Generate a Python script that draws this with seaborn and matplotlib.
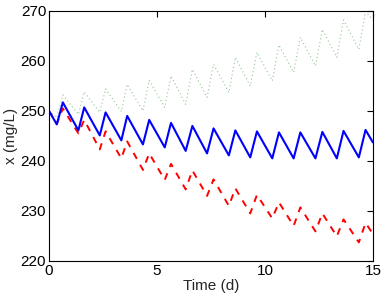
import numpy as np
import pandas as pd
import matplotlib
matplotlib.use("Agg")
import matplotlib.pyplot as plt
import seaborn as sns

# knot times (days) where the sawtooth turns
t_knots = [0, 0.36, 0.64, 1.36, 1.63, 2.35, 2.62, 3.35, 3.62, 4.35, 4.64, 5.36,
           5.65, 6.33, 6.64, 7.32, 7.62, 8.33, 8.63, 9.32, 9.63, 10.34, 10.65,
           11.33, 11.64, 12.34, 12.66, 13.33, 13.64, 14.35, 14.66, 15.0]

blue_vals = [250.0, 247.3, 251.7, 246.1, 250.7, 245.1, 249.7, 244.1, 249.0, 243.3,
             248.2, 242.7, 247.6, 242.0, 247.0, 241.5, 246.5, 241.1, 246.1, 240.7,
             245.9, 240.5, 245.7, 240.5, 245.7, 240.5, 245.8, 240.5, 246.0, 240.7,
             246.2, 243.7]

red_vals = [250.0, 247.4, 250.5, 245.5, 248.2, 242.3, 245.9, 240.5, 243.9, 238.2,
            241.5, 236.2, 239.4, 234.3, 238.1, 233.0, 236.3, 231.0, 234.5, 229.5,
            233.2, 228.5, 231.7, 227.0, 230.7, 225.9, 229.5, 224.9, 228.3, 223.7,
            227.6, 225.4]

green_vals = [250.0, 248.6, 253.2, 249.3, 253.8, 249.7, 254.4, 249.9, 255.3, 250.0,
              256.1, 250.7, 257.0, 251.3, 258.3, 252.7, 259.3, 253.7, 260.7, 255.0,
              261.7, 256.0, 263.2, 257.7, 264.7, 259.0, 266.3, 260.7, 268.2, 262.3,
              269.9, 268.2]

x_ticks = [0, 5, 10, 15]
y_ticks = [220, 230, 240, 250, 260, 270]

df = pd.DataFrame({
    "t": t_knots * 3,
    "x": blue_vals + red_vals + green_vals,
    "series": ["blue"] * len(t_knots) + ["red"] * len(t_knots) + ["green"] * len(t_knots),
})

sns.set_style("white")
plt.rcParams['font.family'] = ['Liberation Sans', 'DejaVu Sans']

fig = plt.figure(figsize=(3.86, 3.03), dpi=100)
ax = fig.add_axes([0.127, 0.139, 0.839, 0.825])

styles = {
    "green": dict(color="#4f9f4f", lw=0.8, ls=(0, (1, 2.4)), alpha=0.6),
    "blue": dict(color="#0000ff", lw=1.5, ls="-"),
    "red": dict(color="#ff0000", lw=1.4, ls=(0, (3.5, 3.5))),
}
for name in ["green", "red", "blue"]:
    sub = df[df["series"] == name]
    st = styles[name]
    sns.lineplot(data=sub, x="t", y="x", ax=ax, color=st["color"], linewidth=st["lw"],
                 linestyle=st["ls"], alpha=st.get("alpha", 1.0), estimator=None,
                 sort=False, legend=False)

ax.set_xlim(0, 15)
ax.set_ylim(220, 270)
ax.set_xticks(x_ticks)
ax.set_yticks(y_ticks)
ax.set_xlabel("Time (d)", fontsize=11, labelpad=1)
ax.set_ylabel("x (mg/L)", fontsize=11, labelpad=2)
ax.tick_params(direction="in", length=4, width=0.8, top=True, right=True,
               labelsize=11, pad=2, colors="black")
for sp in ax.spines.values():
    sp.set_visible(True)
    sp.set_color("black")
    sp.set_linewidth(0.8)

fig.savefig("out.png", dpi=100)
